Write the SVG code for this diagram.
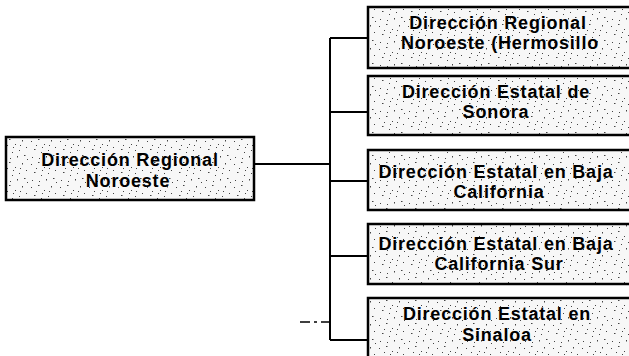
<svg xmlns="http://www.w3.org/2000/svg" width="629" height="356" viewBox="0 0 629 356">
  <defs>
    <pattern id="speckle" patternUnits="userSpaceOnUse" width="29" height="23">
      <rect width="29" height="23" fill="#f7f7f7"/>
      <g fill="#444">
        <rect x="2" y="3" width="1" height="1"/>
        <rect x="9" y="1" width="1.5" height="1"/>
        <rect x="15" y="6" width="1" height="1"/>
        <rect x="22" y="2" width="1" height="1.5"/>
        <rect x="26" y="9" width="1" height="1"/>
        <rect x="5" y="11" width="1.5" height="1"/>
        <rect x="12" y="14" width="1" height="1"/>
        <rect x="19" y="12" width="1" height="1"/>
        <rect x="24" y="17" width="1.5" height="1"/>
        <rect x="3" y="19" width="1" height="1"/>
        <rect x="10" y="20" width="1" height="1"/>
        <rect x="17" y="18" width="1" height="1.5"/>
        <rect x="7" y="7" width="1" height="1"/>
        <rect x="20" y="7" width="1" height="1"/>
        <rect x="13" y="9" width="1" height="1"/>
        <rect x="27" y="21" width="1" height="1"/>
      </g>
    </pattern>
  </defs>
  <style>
    .box { fill: url(#speckle); stroke: #000; stroke-width: 2.5; }
    .lbl { font-family: "Liberation Sans", Arial, sans-serif; font-weight: bold; font-size: 18px; letter-spacing: 0.8px; fill: #000; text-anchor: middle; }
    .conn { stroke: #000; stroke-width: 2; fill: none; }
    .dash { stroke: #000; stroke-width: 1.5; fill: none; stroke-dasharray: 10 4 3 4; }
  </style>
  <rect width="629" height="356" fill="#fff"/>

  <g id="connectors">
    <path class="conn" d="M254 164 H330"/>
    <path class="conn" d="M330 38 V340"/>
    <path class="conn" d="M330 38 H368"/>
    <path class="conn" d="M330 112 H368"/>
    <path class="conn" d="M330 181 H368"/>
    <path class="conn" d="M330 256 H368"/>
    <path class="conn" d="M330 340 H368"/>
    <path class="dash" d="M300 322 H330"/>
  </g>

  <g id="node-root">
    <rect class="box" x="6" y="137" width="248" height="63"/>
    <text class="lbl" x="130" y="166">Dirección Regional</text>
    <text class="lbl" x="128" y="187">Noroeste</text>
  </g>

  <g id="node-hermosillo">
    <rect class="box" x="368" y="7" width="264" height="61"/>
    <text class="lbl" x="498" y="29">Dirección Regional</text>
    <text class="lbl" x="500" y="49">Noroeste (Hermosillo</text>
  </g>

  <g id="node-sonora">
    <rect class="box" x="368" y="76" width="264" height="59"/>
    <text class="lbl" x="496" y="98">Dirección Estatal de</text>
    <text class="lbl" x="496" y="118">Sonora</text>
  </g>

  <g id="node-baja">
    <rect class="box" x="368" y="150" width="264" height="60"/>
    <text class="lbl" x="496" y="178">Dirección Estatal en Baja</text>
    <text class="lbl" x="499" y="198">California</text>
  </g>

  <g id="node-bajasur">
    <rect class="box" x="368" y="224" width="264" height="60"/>
    <text class="lbl" x="496" y="250">Dirección Estatal en Baja</text>
    <text class="lbl" x="499" y="270">California Sur</text>
  </g>

  <g id="node-sinaloa">
    <rect class="box" x="368" y="298" width="264" height="64"/>
    <text class="lbl" x="497" y="320">Dirección Estatal en</text>
    <text class="lbl" x="497" y="341">Sinaloa</text>
  </g>
</svg>
